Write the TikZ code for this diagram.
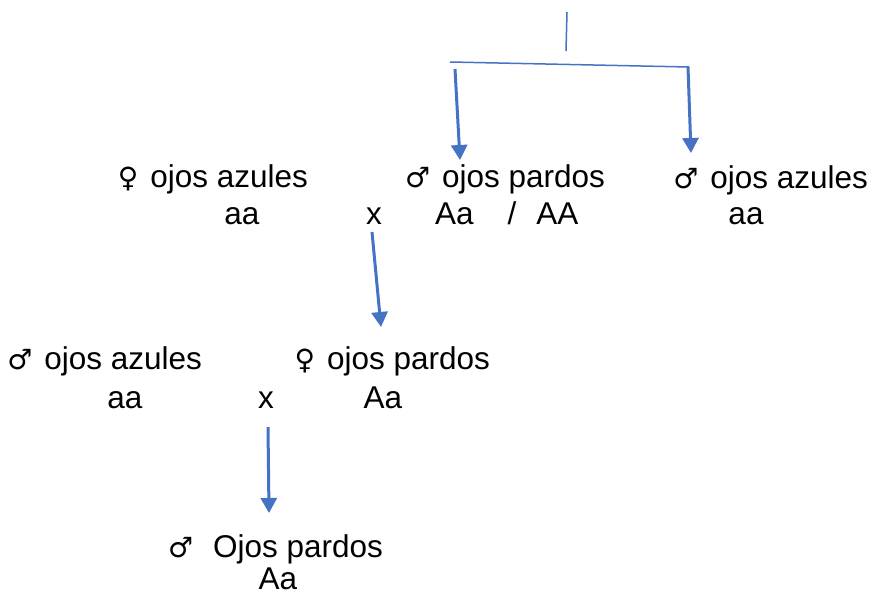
\documentclass[tikz,border=0pt]{standalone}
\usepackage{fontspec}
\setmainfont{Liberation Sans}
\newfontfamily\symfont{DejaVu Sans}
\usetikzlibrary{arrows.meta}
\definecolor{arrblue}{HTML}{4472C4}
\newcommand{\fem}{{\symfont\fontsize{28}{36}\selectfont ♀}}
\newcommand{\mas}{{\symfont\fontsize{28}{36}\selectfont ♂}}
\tikzset{
  lbl/.style={inner sep=0pt, outer sep=0pt, font=\fontsize{31.5}{36}\selectfont},
  thinline/.style={draw=arrblue, line width=1.5pt},
  arr/.style={draw=arrblue, line width=3pt, -{Triangle[width=16pt,length=15pt]}}
}
\begin{document}
\begin{tikzpicture}[x=1pt,y=-1pt]
\useasboundingbox (0,0) rectangle (873,594);
% row 1
\node[lbl, anchor=base east] (f1) at (308,187) {\fem\hspace{12pt}ojos azules};
\node[lbl, anchor=base] (f1g) at (242,224) {aa};
\node[lbl, anchor=base] (x1) at (374,224) {x};
\node[lbl, anchor=base east] (m1) at (605,187) {\mas\hspace{12pt}ojos pardos};
\node[lbl, anchor=base west] (m1g) at (435,224) {Aa\hspace{34pt}/\hspace{20pt}AA};
\node[lbl, anchor=base east] (m2) at (868,188) {\mas\hspace{12pt}ojos azules};
\node[lbl, anchor=base] (m2g) at (746,224) {aa};
% row 2
\node[lbl, anchor=base east] (m3) at (202,369) {\mas\hspace{12pt}ojos azules};
\node[lbl, anchor=base] (m3g) at (125,408) {aa};
\node[lbl, anchor=base] (x2) at (266,408) {x};
\node[lbl, anchor=base east] (f2) at (490,369) {\fem\hspace{12pt}ojos pardos};
\node[lbl, anchor=base] (f2g) at (383,408) {Aa};
% row 3
\node[lbl, anchor=base east] (c) at (383,557) {\mas\hspace{20pt}Ojos pardos};
\node[lbl, anchor=base] (cg) at (278,589) {Aa};
% connectors
\coordinate (top) at (567,12);
\coordinate (topb) at (566,51);
\coordinate (barL) at (450,62);
\coordinate (barR) at (689,67);
\coordinate (aLs) at (455,69);
\coordinate (aLe) at (460,160);
\coordinate (aRs) at (688,67);
\coordinate (aRe) at (691,153);
\coordinate (aMs) at (372,232);
\coordinate (aMe) at (381,327);
\coordinate (aBs) at (268,427);
\coordinate (aBe) at (269,513);
\draw[thinline] (top) -- (topb);
\draw[thinline] (barL) -- (barR);
\draw[arr] (aLs) -- (aLe);
\draw[arr] (aRs) -- (aRe);
\draw[arr] (aMs) -- (aMe);
\draw[arr] (aBs) -- (aBe);
\end{tikzpicture}
\end{document}
